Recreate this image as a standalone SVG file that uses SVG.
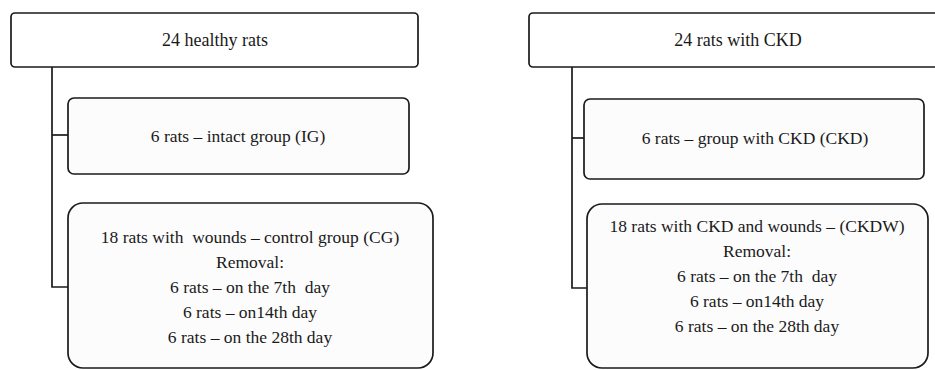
<svg xmlns="http://www.w3.org/2000/svg" width="935" height="370" viewBox="0 0 935 370">
<style>
.box{fill:#ffffff;stroke:#1a1a1a;stroke-width:1.7}
.sub{fill:#fcfcfc;stroke:#1a1a1a;stroke-width:1.7}
.conn{fill:none;stroke:#1a1a1a;stroke-width:1.7}
.t{font-size:17.5px;fill:#1a1a1a;text-anchor:middle}
.title{font-size:18px}
</style>
<rect width="935" height="370" fill="#ffffff"/>
<g id="connectors">
<polyline class="conn" points="52,67 52,287 68,287"/>
<line class="conn" x1="52" y1="135" x2="68" y2="135"/>
<polyline class="conn" points="572,67 572,288 587,288"/>
<line class="conn" x1="572" y1="138" x2="584" y2="138"/>
</g>
<g id="healthy">
<rect class="box" x="11" y="13" width="407" height="54" rx="4"/>
<text class="t title" x="215" y="46" font-family="Times New Roman, serif">24 healthy rats</text>
</g>
<g id="ig">
<rect class="sub" x="68" y="98" width="341" height="76" rx="6"/>
<text class="t" x="238" y="142" font-family="Times New Roman, serif">6 rats – intact group (IG)</text>
</g>
<g id="cg">
<rect class="sub" x="68" y="203" width="365" height="165" rx="15"/>
<text class="t" x="250" y="243" font-family="Times New Roman, serif" xml:space="preserve">18 rats with  wounds – control group (CG)</text>
<text class="t" x="250" y="268" font-family="Times New Roman, serif">Removal:</text>
<text class="t" x="250" y="293" font-family="Times New Roman, serif" xml:space="preserve">6 rats – on the 7th  day</text>
<text class="t" x="250" y="318" font-family="Times New Roman, serif">6 rats – on14th day</text>
<text class="t" x="250" y="343" font-family="Times New Roman, serif">6 rats – on the 28th day</text>
</g>
<g id="ckdall">
<rect class="box" x="529" y="13" width="415" height="54" rx="4"/>
<text class="t title" x="738" y="46" font-family="Times New Roman, serif">24 rats with CKD</text>
</g>
<g id="ckd">
<rect class="sub" x="584" y="99" width="340" height="80" rx="6"/>
<text class="t" x="755" y="144" font-family="Times New Roman, serif">6 rats – group with CKD (CKD)</text>
</g>
<g id="ckdw">
<rect class="sub" x="587" y="204" width="341" height="164" rx="15"/>
<text class="t" x="757" y="232" font-family="Times New Roman, serif">18 rats with CKD and wounds – (CKDW)</text>
<text class="t" x="757" y="257" font-family="Times New Roman, serif">Removal:</text>
<text class="t" x="757" y="282" font-family="Times New Roman, serif" xml:space="preserve">6 rats – on the 7th  day</text>
<text class="t" x="757" y="307" font-family="Times New Roman, serif">6 rats – on14th day</text>
<text class="t" x="757" y="332" font-family="Times New Roman, serif">6 rats – on the 28th day</text>
</g>
</svg>
